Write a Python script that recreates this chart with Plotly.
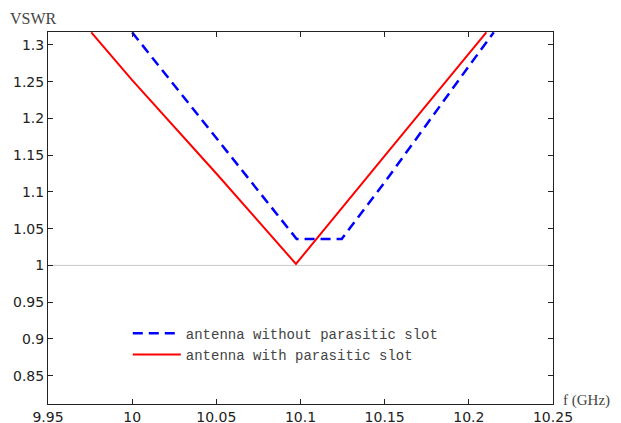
import plotly.graph_objects as go

# Data
f_without = [10.000, 10.050, 10.0977, 10.1245, 10.150, 10.200, 10.2148]
vswr_without = [1.317, 1.173, 1.036, 1.036, 1.113, 1.271, 1.317]

f_with = [9.9757, 10.000, 10.050, 10.0973, 10.150, 10.200, 10.2104]
vswr_with = [1.317, 1.252, 1.125, 1.002, 1.149, 1.289, 1.317]

x_ticks = [9.95, 10.0, 10.05, 10.1, 10.15, 10.2, 10.25]
x_ticktext = ["9.95", "10", "10.05", "10.1", "10.15", "10.2", "10.25"]
y_ticks = [0.85, 0.9, 0.95, 1.0, 1.05, 1.1, 1.15, 1.2, 1.25, 1.3]
y_ticktext = ["0.85", "0.9", "0.95", "1", "1.05", "1.1", "1.15", "1.2", "1.25", "1.3"]

names = ["antenna without parasitic slot", "antenna with parasitic slot"]

fig = go.Figure()
fig.add_trace(go.Scatter(x=f_without, y=vswr_without, mode="lines", name=names[0],
                         line=dict(color="#0000ff", width=2.5, dash="10px,6px")))
fig.add_trace(go.Scatter(x=f_with, y=vswr_with, mode="lines", name=names[1],
                         line=dict(color="#ff0000", width=2)))

fig.add_shape(type="line", xref="paper", x0=0, x1=1, yref="y", y0=1.0, y1=1.0,
              line=dict(color="#c8c8c8", width=1), layer="below")

axis_common = dict(showgrid=False, zeroline=False, showline=True, linecolor="#222",
                   linewidth=1, mirror="ticks", ticks="inside", ticklen=5, automargin=False,
                   tickcolor="#222", tickfont=dict(family="DejaVu Sans", size=14, color="#222"))

fig.update_xaxes(range=[9.95, 10.25], tickvals=x_ticks, ticktext=x_ticktext, **axis_common)
fig.update_yaxes(range=[0.8115, 1.3175], tickvals=y_ticks, ticktext=y_ticktext, **axis_common)

fig.add_annotation(text="VSWR", xref="paper", yref="paper", x=-0.028, y=1.0, xanchor="center",
                   yanchor="bottom", yshift=3, showarrow=False,
                   font=dict(family="Liberation Serif", size=16, color="#444"))
fig.add_annotation(text="f (GHz)", xref="paper", yref="paper", x=1.0, y=0.0, xanchor="left",
                   yanchor="middle", xshift=8, yshift=4, showarrow=False,
                   font=dict(family="Liberation Serif", size=15, color="#444"))

fig.update_layout(
    width=621, height=423,
    margin=dict(l=48, r=68, t=32, b=19, autoexpand=False),
    paper_bgcolor="white", plot_bgcolor="white",
    showlegend=True,
    legend=dict(x=0.158, y=0.232, xanchor="left", yanchor="top",
                bgcolor="rgba(0,0,0,0)", itemwidth=48, tracegroupgap=0,
                font=dict(family="Liberation Mono", size=14, color="#444")),
)

fig.write_html("out.html", config={"displayModeBar": False},
               post_script="document.body.style.margin='0';")
